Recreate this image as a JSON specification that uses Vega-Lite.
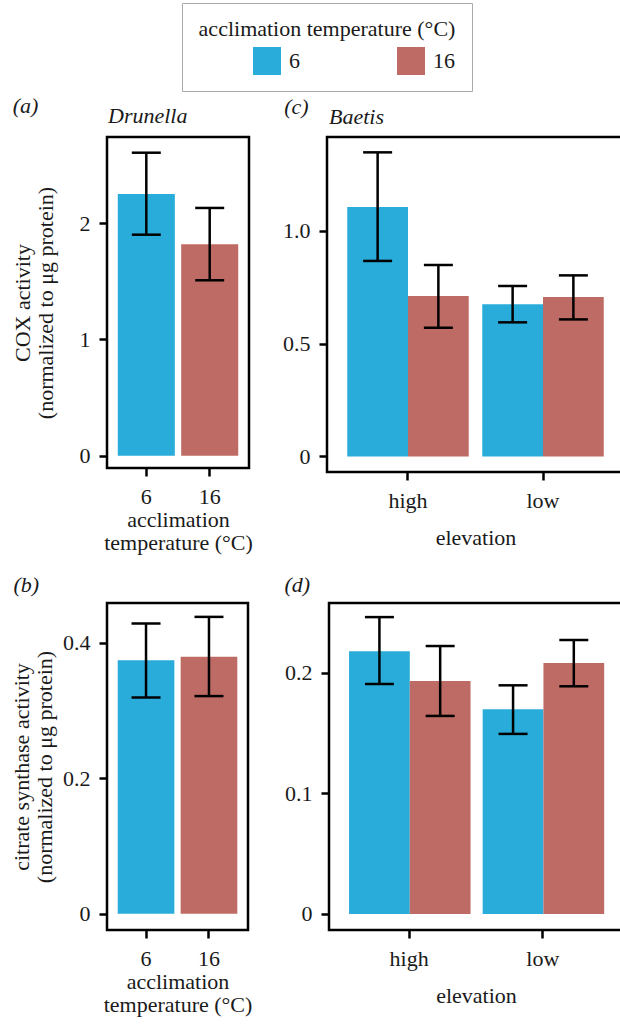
{
  "$schema": "https://vega.github.io/schema/vega-lite/v6.json",
  "background": "white",
  "padding": {"left": 9, "top": 2, "right": 0, "bottom": 0},
  "config": {
    "font": "Liberation Serif",
    "view": {"stroke": "black", "strokeWidth": 2.5},
    "axis": {"domain": false, "grid": false, "ticks": true, "tickColor": "black", "tickWidth": 2.5, "tickSize": 8, "labelFont": "Liberation Serif", "labelFontSize": 22, "labelColor": "#1a1a1a", "titleFont": "Liberation Serif", "titleFontSize": 22, "titleFontWeight": "normal", "titleColor": "#1a1a1a", "titleLineHeight": 23},
    "axisX": {"labelPadding": 10, "labelAngle": 0, "titlePadding": 2},
    "axisY": {"labelPadding": 9, "titlePadding": 18},
    "title": {"font": "Liberation Serif", "fontSize": 22, "fontWeight": "normal", "fontStyle": "italic", "color": "#1a1a1a", "anchor": "start"}
  },
  "datasets": {
    "d": [
      {"panel": "a", "x": "6", "temp": "6", "mean": 2.25, "lo": 1.9, "hi": 2.605},
      {"panel": "a", "x": "16", "temp": "16", "mean": 1.817, "lo": 1.508, "hi": 2.13},
      {"panel": "c", "x": "high", "temp": "6", "mean": 1.105, "lo": 0.866, "hi": 1.347},
      {"panel": "c", "x": "high", "temp": "16", "mean": 0.711, "lo": 0.57, "hi": 0.848},
      {"panel": "c", "x": "low", "temp": "6", "mean": 0.674, "lo": 0.594, "hi": 0.755},
      {"panel": "c", "x": "low", "temp": "16", "mean": 0.706, "lo": 0.607, "hi": 0.802},
      {"panel": "b", "x": "6", "temp": "6", "mean": 0.3746, "lo": 0.3195, "hi": 0.4286},
      {"panel": "b", "x": "16", "temp": "16", "mean": 0.3795, "lo": 0.3215, "hi": 0.4385},
      {"panel": "d", "x": "high", "temp": "6", "mean": 0.218, "lo": 0.1908, "hi": 0.2463},
      {"panel": "d", "x": "high", "temp": "16", "mean": 0.1933, "lo": 0.1643, "hi": 0.2223},
      {"panel": "d", "x": "low", "temp": "6", "mean": 0.1698, "lo": 0.1494, "hi": 0.1897},
      {"panel": "d", "x": "low", "temp": "16", "mean": 0.2082, "lo": 0.1889, "hi": 0.2273}
    ]
  },
  "spacing": 17,
  "vconcat": [
    {
      "spacing": 27,
      "hconcat": [
        {
          "title": {"text": "(a)", "frame": "bounds", "offset": -14, "dx": 3},
          "vconcat": [
            {
              "title": {"text": "Drunella", "frame": "group", "offset": 9, "dx": 1},
              "width": 142, "height": 331,
              "data": {"name": "d"},
              "transform": [{"filter": "datum.panel === 'a'"}],
              "encoding": {
                "x": {"field": "x", "type": "nominal", "sort": ["6", "16"], "scale": {"paddingInner": 0.1, "paddingOuter": 0.17}, "axis": {"title": ["acclimation", "temperature (°C)"]}}
              },
              "layer": [
                {"mark": {"type": "bar"}, "encoding": {
                  "y": {"field": "mean", "type": "quantitative", "scale": {"domain": [-0.106, 2.74], "nice": false, "zero": false}, "axis": {"values": [0, 1, 2], "format": "d", "titlePadding": 22, "title": ["COX activity", "(normalized to μg protein)"]}},
                  "y2": {"datum": 0},
                  "color": {"field": "temp", "type": "nominal", "sort": ["6", "16"], "scale": {"domain": ["6", "16"], "range": ["#29acd9", "#bf6b65"]}, "legend": {"title": "acclimation temperature (°C)", "orient": "none", "legendX": 75, "legendY": -134, "direction": "horizontal", "symbolType": "square", "symbolSize": 784, "symbolStrokeWidth": 0, "symbolOpacity": 1, "strokeColor": "#aaaaaa", "padding": 16, "titleFontSize": 22, "labelFontSize": 22, "titleFontWeight": "normal", "titleColor": "#1a1a1a", "labelColor": "#1a1a1a", "titleAnchor": "middle", "titleLimit": 400, "columnPadding": 42, "labelOffset": 8, "titlePadding": 6, "symbolOffset": 55}}
                }},
                {"mark": {"type": "rule", "color": "black", "strokeWidth": 2.5}, "encoding": {"y": {"field": "lo", "type": "quantitative"}, "y2": {"field": "hi"}}},
                {"mark": {"type": "tick", "color": "black", "thickness": 2.5, "size": 29, "opacity": 1}, "encoding": {"y": {"field": "lo", "type": "quantitative"}}},
                {"mark": {"type": "tick", "color": "black", "thickness": 2.5, "size": 29, "opacity": 1}, "encoding": {"y": {"field": "hi", "type": "quantitative"}}}
              ]
            }
          ]
        },
        {
          "title": {"text": "(c)", "frame": "bounds", "offset": -14, "dx": 3},
          "vconcat": [
            {
              "title": {"text": "Baetis", "frame": "group", "offset": 8, "dx": 2},
              "width": 297, "height": 335,
              "data": {"name": "d"},
              "transform": [{"filter": "datum.panel === 'c'"}],
              "encoding": {
                "x": {"field": "x", "type": "nominal", "sort": ["high", "low"], "scale": {"paddingInner": 0.1, "paddingOuter": 0.15}, "axis": {"title": "elevation", "titlePadding": 16}},
                "xOffset": {"field": "temp", "type": "nominal", "sort": ["6", "16"], "scale": {"paddingInner": 0, "paddingOuter": 0}}
              },
              "layer": [
                {"mark": {"type": "bar"}, "encoding": {
                  "y": {"field": "mean", "type": "quantitative", "scale": {"domain": [-0.069, 1.415], "nice": false, "zero": false}, "axis": {"values": [0, 0.5, 1], "labelExpr": "datum.value === 0 ? '0' : format(datum.value, '.1f')", "title": null}},
                  "y2": {"datum": 0},
                  "color": {"field": "temp", "type": "nominal", "sort": ["6", "16"], "scale": {"domain": ["6", "16"], "range": ["#29acd9", "#bf6b65"]}, "legend": {"title": "acclimation temperature (°C)", "orient": "none", "legendX": 75, "legendY": -134, "direction": "horizontal", "symbolType": "square", "symbolSize": 784, "symbolStrokeWidth": 0, "symbolOpacity": 1, "strokeColor": "#aaaaaa", "padding": 16, "titleFontSize": 22, "labelFontSize": 22, "titleFontWeight": "normal", "titleColor": "#1a1a1a", "labelColor": "#1a1a1a", "titleAnchor": "middle", "titleLimit": 400, "columnPadding": 42, "labelOffset": 8, "titlePadding": 6, "symbolOffset": 55}}
                }},
                {"mark": {"type": "rule", "color": "black", "strokeWidth": 2.5}, "encoding": {"y": {"field": "lo", "type": "quantitative"}, "y2": {"field": "hi"}}},
                {"mark": {"type": "tick", "color": "black", "thickness": 2.5, "size": 29, "opacity": 1}, "encoding": {"y": {"field": "lo", "type": "quantitative"}}},
                {"mark": {"type": "tick", "color": "black", "thickness": 2.5, "size": 29, "opacity": 1}, "encoding": {"y": {"field": "hi", "type": "quantitative"}}}
              ]
            }
          ]
        }
      ]
    },
    {
      "spacing": 29,
      "hconcat": [
        {
          "title": {"text": "(b)", "frame": "bounds", "offset": 6, "dx": 3},
          "width": 141, "height": 327,
          "data": {"name": "d"},
          "transform": [{"filter": "datum.panel === 'b'"}],
          "encoding": {
            "x": {"field": "x", "type": "nominal", "sort": ["6", "16"], "scale": {"paddingInner": 0.1, "paddingOuter": 0.17}, "axis": {"title": ["acclimation", "temperature (°C)"]}}
          },
          "layer": [
            {"mark": {"type": "bar"}, "encoding": {
              "y": {"field": "mean", "type": "quantitative", "scale": {"domain": [-0.024, 0.459], "nice": false, "zero": false}, "axis": {"values": [0, 0.2, 0.4], "labelExpr": "datum.value === 0 ? '0' : format(datum.value, '.1f')", "titlePadding": 6, "title": ["citrate synthase activity", "(normalized to μg protein)"]}},
              "y2": {"datum": 0},
              "color": {"field": "temp", "type": "nominal", "sort": ["6", "16"], "scale": {"domain": ["6", "16"], "range": ["#29acd9", "#bf6b65"]}, "legend": {"title": "acclimation temperature (°C)", "orient": "none", "legendX": 75, "legendY": -134, "direction": "horizontal", "symbolType": "square", "symbolSize": 784, "symbolStrokeWidth": 0, "symbolOpacity": 1, "strokeColor": "#aaaaaa", "padding": 16, "titleFontSize": 22, "labelFontSize": 22, "titleFontWeight": "normal", "titleColor": "#1a1a1a", "labelColor": "#1a1a1a", "titleAnchor": "middle", "titleLimit": 400, "columnPadding": 42, "labelOffset": 8, "titlePadding": 6, "symbolOffset": 55}}
            }},
            {"mark": {"type": "rule", "color": "black", "strokeWidth": 2.5}, "encoding": {"y": {"field": "lo", "type": "quantitative"}, "y2": {"field": "hi"}}},
            {"mark": {"type": "tick", "color": "black", "thickness": 2.5, "size": 29, "opacity": 1}, "encoding": {"y": {"field": "lo", "type": "quantitative"}}},
            {"mark": {"type": "tick", "color": "black", "thickness": 2.5, "size": 29, "opacity": 1}, "encoding": {"y": {"field": "hi", "type": "quantitative"}}}
          ]
        },
        {
          "title": {"text": "(d)", "frame": "bounds", "offset": 6, "dx": 0},
          "width": 294, "height": 327,
          "data": {"name": "d"},
          "transform": [{"filter": "datum.panel === 'd'"}],
          "encoding": {
            "x": {"field": "x", "type": "nominal", "sort": ["high", "low"], "scale": {"paddingInner": 0.1, "paddingOuter": 0.15}, "axis": {"title": "elevation", "titlePadding": 16}},
            "xOffset": {"field": "temp", "type": "nominal", "sort": ["6", "16"], "scale": {"paddingInner": 0, "paddingOuter": 0}}
          },
          "layer": [
            {"mark": {"type": "bar"}, "encoding": {
              "y": {"field": "mean", "type": "quantitative", "scale": {"domain": [-0.0133, 0.258], "nice": false, "zero": false}, "axis": {"values": [0, 0.1, 0.2], "labelExpr": "datum.value === 0 ? '0' : format(datum.value, '.1f')", "title": null}},
              "y2": {"datum": 0},
              "color": {"field": "temp", "type": "nominal", "sort": ["6", "16"], "scale": {"domain": ["6", "16"], "range": ["#29acd9", "#bf6b65"]}, "legend": {"title": "acclimation temperature (°C)", "orient": "none", "legendX": 75, "legendY": -134, "direction": "horizontal", "symbolType": "square", "symbolSize": 784, "symbolStrokeWidth": 0, "symbolOpacity": 1, "strokeColor": "#aaaaaa", "padding": 16, "titleFontSize": 22, "labelFontSize": 22, "titleFontWeight": "normal", "titleColor": "#1a1a1a", "labelColor": "#1a1a1a", "titleAnchor": "middle", "titleLimit": 400, "columnPadding": 42, "labelOffset": 8, "titlePadding": 6, "symbolOffset": 55}}
            }},
            {"mark": {"type": "rule", "color": "black", "strokeWidth": 2.5}, "encoding": {"y": {"field": "lo", "type": "quantitative"}, "y2": {"field": "hi"}}},
            {"mark": {"type": "tick", "color": "black", "thickness": 2.5, "size": 29, "opacity": 1}, "encoding": {"y": {"field": "lo", "type": "quantitative"}}},
            {"mark": {"type": "tick", "color": "black", "thickness": 2.5, "size": 29, "opacity": 1}, "encoding": {"y": {"field": "hi", "type": "quantitative"}}}
          ]
        }
      ]
    }
  ]
}
